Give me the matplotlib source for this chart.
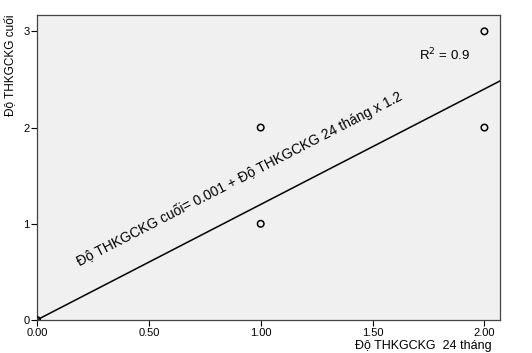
import matplotlib
matplotlib.use("Agg")
import matplotlib.pyplot as plt
import numpy as np

plt.rcParams['font.family'] = ['Liberation Sans', 'DejaVu Sans']

x_vals = [0.0, 1.0, 1.0, 2.0, 2.0]
y_vals = [0.0, 1.0, 2.0, 2.0, 3.0]
intercept = 0.001
slope = 1.2
x_ticks = [0.0, 0.5, 1.0, 1.5, 2.0]
x_ticklabels = ["0.00", "0.50", "1.00", "1.50", "2.00"]
y_ticks = [0, 1, 2, 3]

fig = plt.figure(figsize=(5.32, 3.53), dpi=100)
ax = fig.add_axes([0.0695, 0.0935, 0.8705, 0.864])
ax.set_facecolor('#f0f0f0')
ax.set_xlim(0, 2.07)
ax.set_ylim(0, 3.17)

xl = np.array([0, 2.07])
ax.plot(xl, intercept + slope * xl, color='black', lw=1.1, zorder=2)
ax.scatter(x_vals, y_vals, s=22, facecolors='none', edgecolors='black', linewidths=1.1, zorder=3, clip_on=True)

ax.set_xticks(x_ticks)
ax.set_xticklabels(x_ticklabels)
ax.set_yticks(y_ticks)
ax.tick_params(labelsize=8, length=4, width=0.8, pad=1.5)
for s in ax.spines.values():
    s.set_color('#444444')
    s.set_linewidth(0.9)

ax.text(0.905, 1.47, "Độ THKGCKG cuối= 0.001 + Độ THKGCKG 24 tháng x 1.2",
        rotation=27.3, rotation_mode='anchor', ha='center', va='center', fontsize=10)
ax.text(1.82, 2.75, "R$^2$ = 0.9", ha='center', va='center', fontsize=9.5)

fig.text(492/532, 1 - 346/353, "Độ THKGCKG  24 tháng", ha='right', va='center', fontsize=9)
fig.text(10/532, 1 - 15/353, "Độ THKGCKG cuối", rotation=90, ha='center', va='top', fontsize=8.5)

fig.savefig("out.png", dpi=100)
